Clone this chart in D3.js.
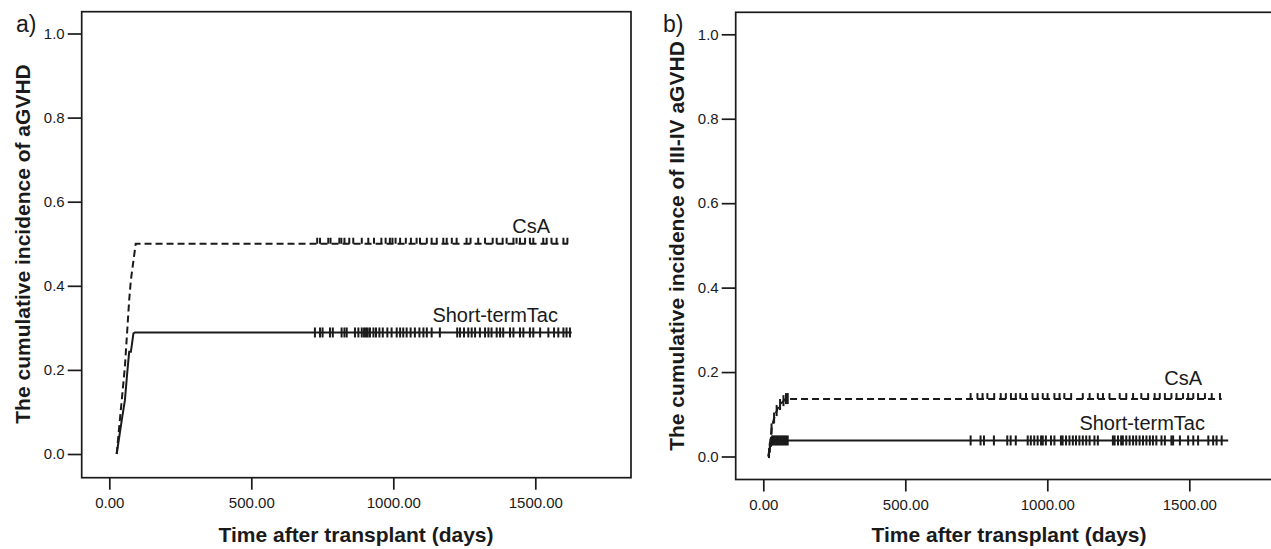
<!DOCTYPE html>
<html><head><meta charset="utf-8">
<script src="https://cdn.jsdelivr.net/npm/d3@7"></script>
<style>
html,body{margin:0;padding:0;background:#fff;}
svg{display:block;font-family:"Liberation Sans",Arial,Helvetica,sans-serif;}
</style></head>
<body><svg id="c" width="1271" height="549"></svg>
<script>
// ---------- DATA ----------
const xTicks = [0, 500, 1000, 1500];
const yTicks = [0, 0.2, 0.4, 0.6, 0.8, 1.0];
const seriesNames = ["CsA", "Short-termTac"];

// Panel a: cumulative incidence of aGVHD  [day, value]
const aCsA = [[26,0],[35,0.065],[55,0.208],[70,0.366],[76,0.414],[93,0.5],[1615,0.5]];
const aTac = [[26,0],[44,0.081],[55,0.128],[63,0.192],[70,0.243],[76,0.243],[85,0.287],[90,0.289],[1628,0.289]];
const aCsACensor = [732,742,771,779,810,817,828,845,859,889,912,932,958,973,988,997,1008,1024,1044,1062,1082,1094,1118,1135,1153,1176,1188,1206,1223,1258,1272,1299,1323,1350,1364,1385,1399,1423,1434,1446,1464,1481,1493,1528,1540,1557,1575,1599,1613];
const aTacCensor = [724,742,751,777,787,818,828,836,865,877,889,897,904,910,918,930,939,951,963,979,994,1012,1024,1035,1047,1061,1076,1092,1106,1118,1135,1164,1225,1235,1249,1264,1276,1288,1305,1323,1335,1346,1364,1376,1387,1411,1423,1446,1458,1481,1493,1517,1546,1566,1581,1599,1610,1622];

// Panel b: cumulative incidence of III-IV aGVHD
const bCsA = [[18,0],[25,0.04],[30,0.07],[40,0.095],[50,0.113],[62,0.125],[78,0.136],[1614,0.136]];
const bTac = [[18,0],[21,0.012],[24,0.025],[28,0.038],[1637,0.038]];
const bCsACensor = [29,38,47,59,71,80,86,730,754,772,789,813,836,854,872,889,905,925,948,966,984,1001,1025,1043,1060,1084,1125,1149,1178,1196,1219,1255,1278,1302,1331,1355,1378,1396,1414,1437,1455,1478,1496,1514,1531,1555,1579,1608];
const bTacCensor = [20,23,27,31,35,40,45,50,55,60,65,70,75,80,86,730,765,777,812,859,871,889,931,942,954,966,978,984,995,1013,1025,1048,1054,1066,1078,1090,1101,1113,1125,1137,1149,1166,1178,1231,1237,1249,1260,1266,1278,1290,1302,1313,1325,1337,1349,1361,1372,1384,1402,1414,1437,1443,1467,1496,1514,1531,1567,1584,1596,1614];

// ---------- DRAW ----------
const svg = d3.select("#c");
const ink = "#1a1a1a";

function valueAt(curve, day){
  const i = d3.bisector(d => d[0]).left(curve, day);
  if (i <= 0) return curve[0][1];
  if (i >= curve.length) return curve[curve.length-1][1];
  const a = curve[i-1], b = curve[i];
  return a[1] + (b[1]-a[1]) * (day - a[0]) / (b[0]-a[0]);
}

function panel(cfg){
  const g = svg.append("g");
  const x = d3.scaleLinear().domain([0,1500]).range(cfg.xr);
  const y = d3.scaleLinear().domain([0,1]).range(cfg.yr);

  // frame
  g.append("rect").attr("x", cfg.box[0]).attr("y", cfg.box[1])
    .attr("width", cfg.box[2]-cfg.box[0]).attr("height", cfg.box[3]-cfg.box[1])
    .attr("fill","none").attr("stroke", ink).attr("stroke-width",1.7);

  // y axis
  const ya = g.append("g").attr("transform",`translate(${cfg.box[0]},0)`)
    .call(d3.axisLeft(y).tickValues(yTicks).tickFormat(d3.format(".1f")).tickSize(14).tickPadding(3));
  ya.select(".domain").remove();
  ya.selectAll("line").attr("stroke", ink).attr("stroke-width",1.7);
  ya.selectAll("text").attr("font-size",15).attr("fill", ink).attr("font-family","Liberation Sans, Arial, sans-serif");

  // x axis
  const xa = g.append("g").attr("transform",`translate(0,${cfg.box[3]})`)
    .call(d3.axisBottom(x).tickValues(xTicks).tickFormat(d3.format(".2f")).tickSize(12).tickPadding(8));
  xa.select(".domain").remove();
  xa.selectAll("line").attr("stroke", ink).attr("stroke-width",1.7);
  xa.selectAll("text").attr("font-size",15).attr("fill", ink).attr("font-family","Liberation Sans, Arial, sans-serif");

  const line = d3.line().x(d => x(d[0])).y(d => y(d[1]));

  // CsA dashed
  g.append("path").datum(cfg.csa).attr("d", line).attr("fill","none")
    .attr("stroke", ink).attr("stroke-width",2).attr("stroke-dasharray","7,4");
  // Tac solid
  g.append("path").datum(cfg.tac).attr("d", line).attr("fill","none")
    .attr("stroke", ink).attr("stroke-width",2);

  // censor marks
  g.append("g").selectAll("line").data(cfg.csaC).join("line")
    .attr("x1", d => x(d)).attr("x2", d => x(d))
    .attr("y1", d => y(valueAt(cfg.csa, d)) - 6)
    .attr("y2", d => y(valueAt(cfg.csa, d)) + (d < 200 ? 5 : 0))
    .attr("stroke", ink).attr("stroke-width",2);
  g.append("g").selectAll("line").data(cfg.tacC).join("line")
    .attr("x1", d => x(d)).attr("x2", d => x(d))
    .attr("y1", d => y(valueAt(cfg.tac, d)) - 5)
    .attr("y2", d => y(valueAt(cfg.tac, d)) + 5)
    .attr("stroke", ink).attr("stroke-width",2);

  // series labels
  const csaLevel = cfg.csa[cfg.csa.length-1][1];
  const tacLevel = cfg.tac[cfg.tac.length-1][1];
  g.append("text").attr("x", cfg.csaLab[0]).attr("y", y(csaLevel) - cfg.csaLab[1])
    .attr("text-anchor","end").attr("font-size",20).attr("fill",ink).text(seriesNames[0]);
  g.append("text").attr("x", cfg.tacLab[0]).attr("y", y(tacLevel) - cfg.tacLab[1])
    .attr("text-anchor","end").attr("font-size",20).attr("fill",ink).text(seriesNames[1]);

  // axis titles
  g.append("text").attr("transform",`translate(${cfg.ylab[0]},${cfg.ylab[1]}) rotate(-90)`)
    .attr("text-anchor","middle").attr("font-size",21).attr("font-weight","bold").attr("fill",ink)
    .text(cfg.ytitle);
  g.append("text").attr("x", cfg.xlab[0]).attr("y", cfg.xlab[1])
    .attr("text-anchor","middle").attr("font-size",21).attr("font-weight","bold").attr("fill",ink)
    .text("Time after transplant (days)");

  // panel letter
  g.append("text").attr("x", cfg.letter[0]).attr("y", cfg.letter[1])
    .attr("font-size",23).attr("fill",ink).text(cfg.letterText);
}

panel({
  xr:[109.3, 535.3], yr:[454, 33.5], box:[81.7, 11.7, 631, 477.7],
  csa:aCsA, tac:aTac, csaC:aCsACensor, tacC:aTacCensor,
  csaLab:[550, 10.7], tacLab:[558, 10.8],
  ytitle:"The cumulative incidence of aGVHD", ylab:[29.5, 244], xlab:[356, 542],
  letter:[16, 32], letterText:"a)"
});
panel({
  xr:[763.3, 1189.3], yr:[456.5, 34.3], box:[735.7, 12.3, 1286, 479.5],
  csa:bCsA, tac:bTac, csaC:bCsACensor, tacC:bTacCensor,
  csaLab:[1202, 14], tacLab:[1205, 10],
  ytitle:"The cumulative incidence of III-IV aGVHD", ylab:[683.5, 246], xlab:[1009, 542],
  letter:[663, 32], letterText:"b)"
});
</script></body></html>
